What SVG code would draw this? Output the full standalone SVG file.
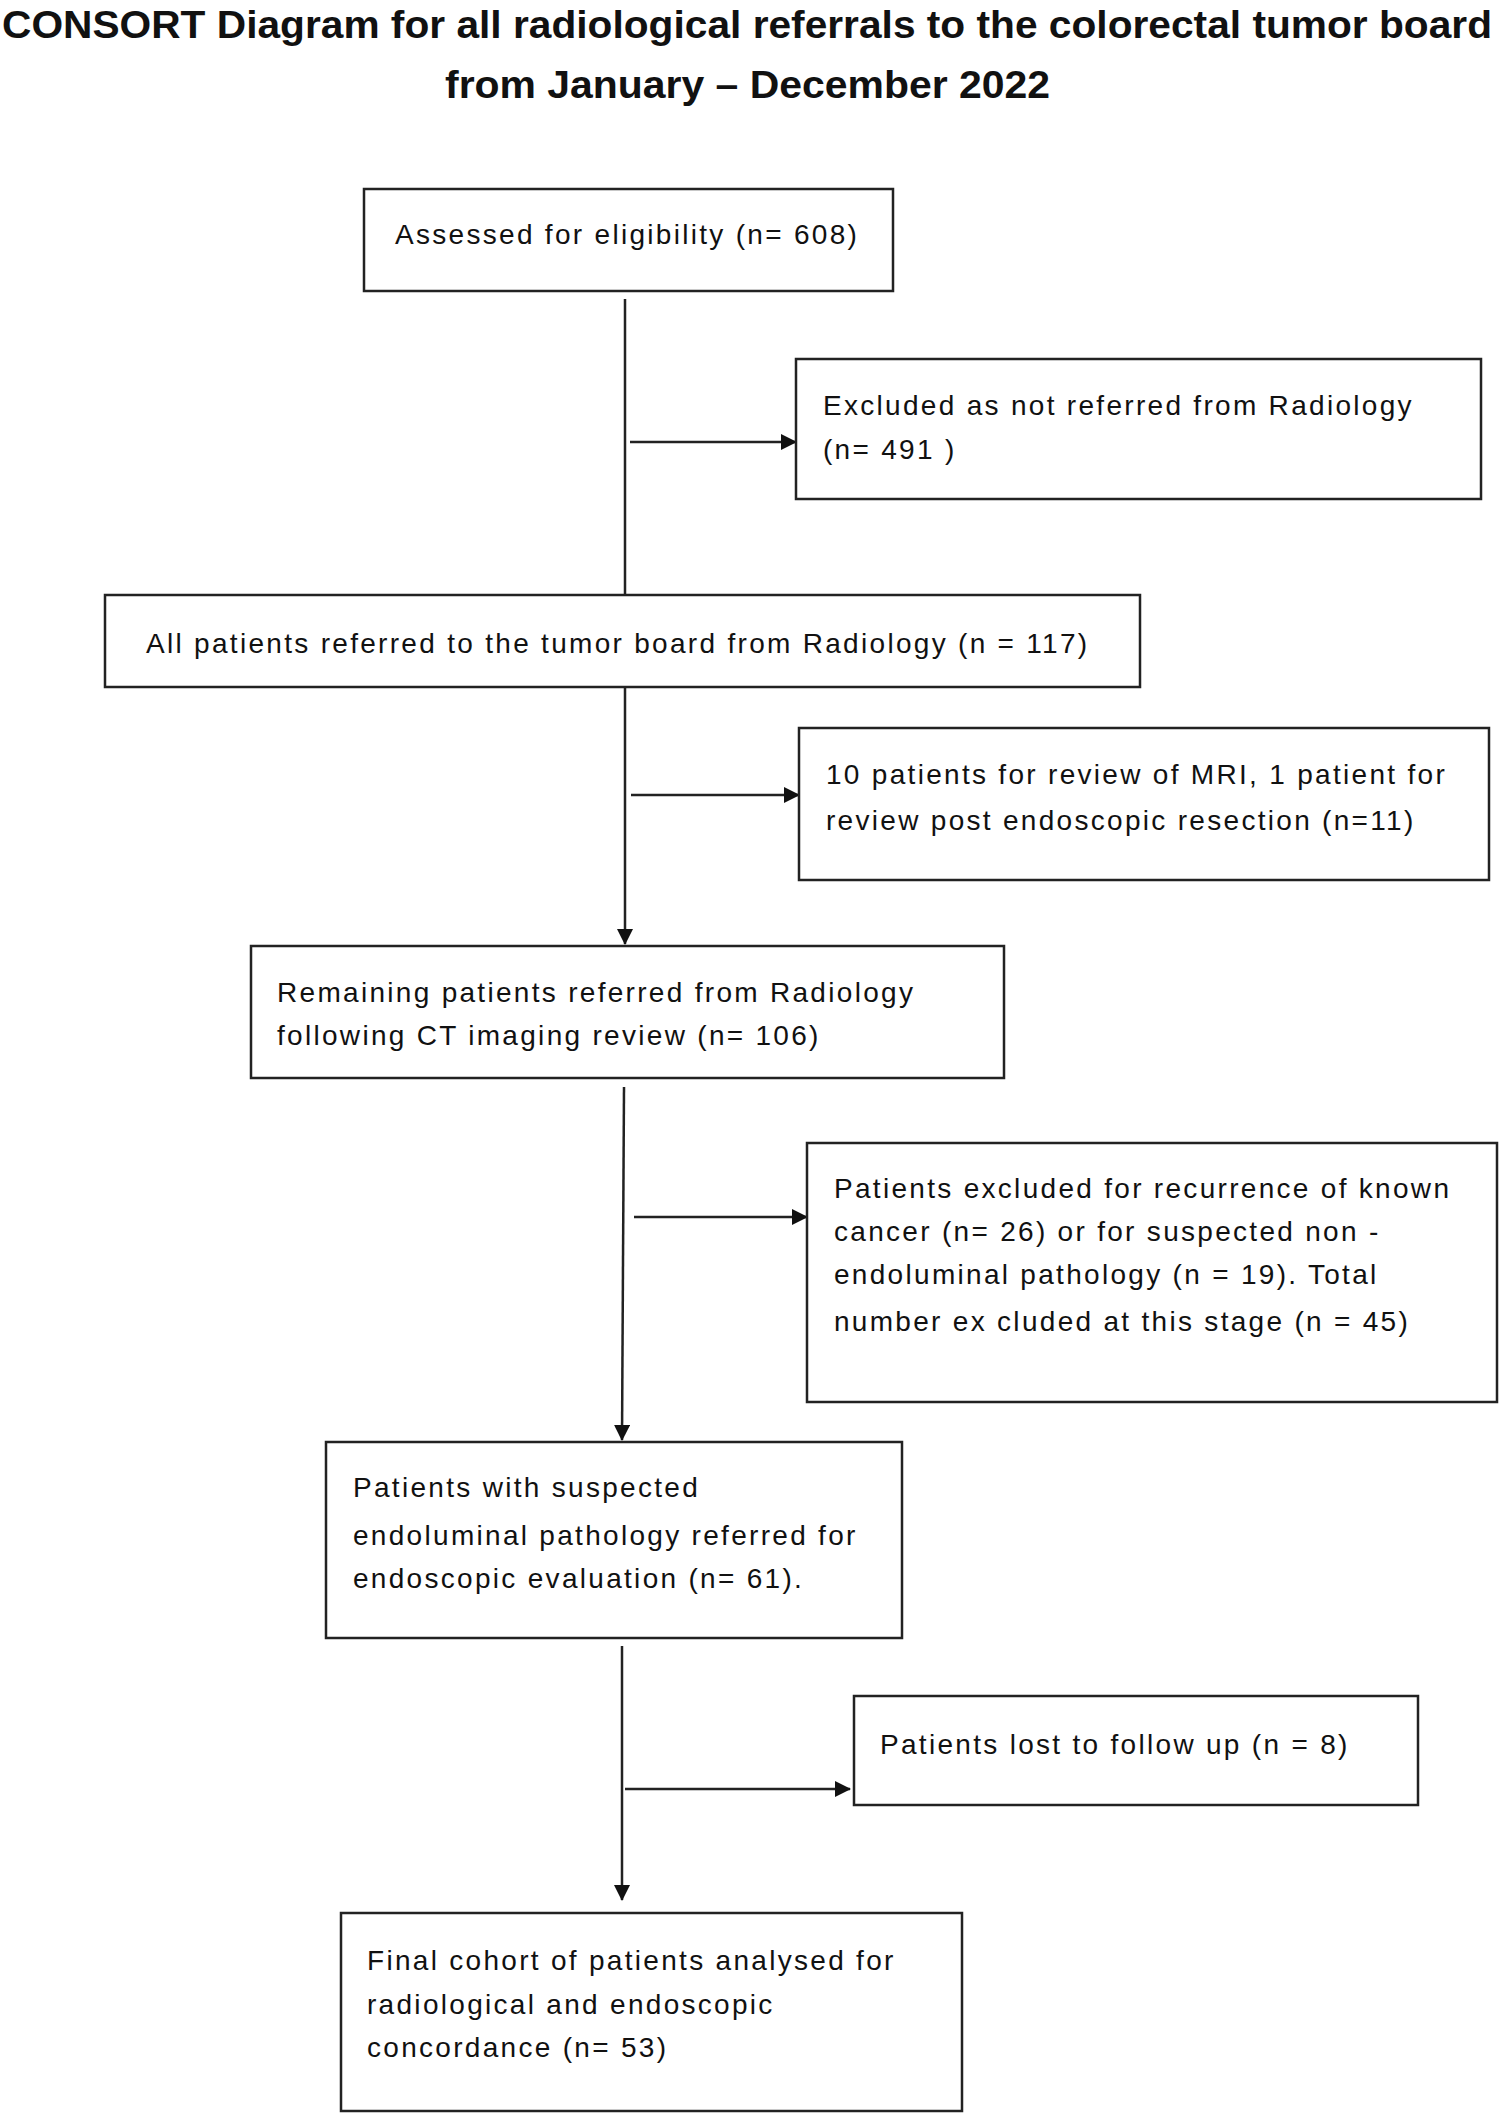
<svg xmlns="http://www.w3.org/2000/svg" width="1504" height="2119" viewBox="0 0 1504 2119">
<defs>
<marker id="ah" markerWidth="16" markerHeight="16" refX="15" refY="8" orient="auto" markerUnits="userSpaceOnUse" viewBox="0 0 16 16"><path d="M0,0 L16,8 L0,16 z" fill="#111"/></marker>
</defs>
<style>
.box{fill:#fff;stroke:#222;stroke-width:2.5}
.t{font-family:"Liberation Sans",Arial,sans-serif;font-size:28px;letter-spacing:2.3px;fill:#111}
.title{font-family:"Liberation Sans",Arial,sans-serif;font-size:38px;font-weight:bold;fill:#111}
.c{stroke:#222;stroke-width:2.5;fill:none}
</style>
<rect width="1504" height="2119" fill="#fff"/>
<g id="title">
<text class="title" x="2" y="38" textLength="1490" lengthAdjust="spacingAndGlyphs">CONSORT Diagram for all radiological referrals to the colorectal tumor board</text>
<text class="title" x="445" y="98" textLength="605" lengthAdjust="spacingAndGlyphs">from January – December 2022</text>
</g>
<g id="connectors">
<line class="c" x1="625" y1="299" x2="625" y2="595"/>
<line class="c" x1="630" y1="442" x2="796" y2="442" marker-end="url(#ah)"/>
<line class="c" x1="625" y1="687" x2="625" y2="944" marker-end="url(#ah)"/>
<line class="c" x1="631" y1="795" x2="799" y2="795" marker-end="url(#ah)"/>
<line class="c" x1="624" y1="1087" x2="622" y2="1440" marker-end="url(#ah)"/>
<line class="c" x1="634" y1="1217" x2="807" y2="1217" marker-end="url(#ah)"/>
<line class="c" x1="622" y1="1646" x2="622" y2="1900" marker-end="url(#ah)"/>
<line class="c" x1="625" y1="1789" x2="850" y2="1789" marker-end="url(#ah)"/>
</g>
<g id="n1"><rect class="box" x="364" y="189" width="529" height="102"/><text class="t" x="395" y="244">Assessed for eligibility (n= 608)</text></g>
<g id="n2"><rect class="box" x="796" y="359" width="685" height="140"/><text class="t" x="823" y="415">Excluded as not referred from Radiology</text><text class="t" x="823" y="459">(n= 491 )</text></g>
<g id="n3"><rect class="box" x="105" y="595" width="1035" height="92"/><text class="t" x="146" y="653">All patients referred to the tumor board from Radiology (n = 117)</text></g>
<g id="n4"><rect class="box" x="799" y="728" width="690" height="152"/><text class="t" x="826" y="784">10 patients for review of MRI, 1 patient for</text><text class="t" x="826" y="830">review post endoscopic resection (n=11)</text></g>
<g id="n5"><rect class="box" x="251" y="946" width="753" height="132"/><text class="t" x="277" y="1002">Remaining patients referred from Radiology</text><text class="t" x="277" y="1045">following CT imaging review (n= 106)</text></g>
<g id="n6"><rect class="box" x="807" y="1143" width="690" height="259"/><text class="t" x="834" y="1198">Patients excluded for recurrence of known</text><text class="t" x="834" y="1241">cancer (n= 26) or for suspected non -</text><text class="t" x="834" y="1284">endoluminal pathology (n = 19). Total</text><text class="t" x="834" y="1331">number ex cluded at this stage (n = 45)</text></g>
<g id="n7"><rect class="box" x="326" y="1442" width="576" height="196"/><text class="t" x="353" y="1497">Patients with suspected</text><text class="t" x="353" y="1545">endoluminal pathology referred for</text><text class="t" x="353" y="1588">endoscopic evaluation (n= 61).</text></g>
<g id="n8"><rect class="box" x="854" y="1696" width="564" height="109"/><text class="t" x="880" y="1754">Patients lost to follow up (n = 8)</text></g>
<g id="n9"><rect class="box" x="341" y="1913" width="621" height="198"/><text class="t" x="367" y="1970">Final cohort of patients analysed for</text><text class="t" x="367" y="2014">radiological and endoscopic</text><text class="t" x="367" y="2057">concordance (n= 53)</text></g>
</svg>
